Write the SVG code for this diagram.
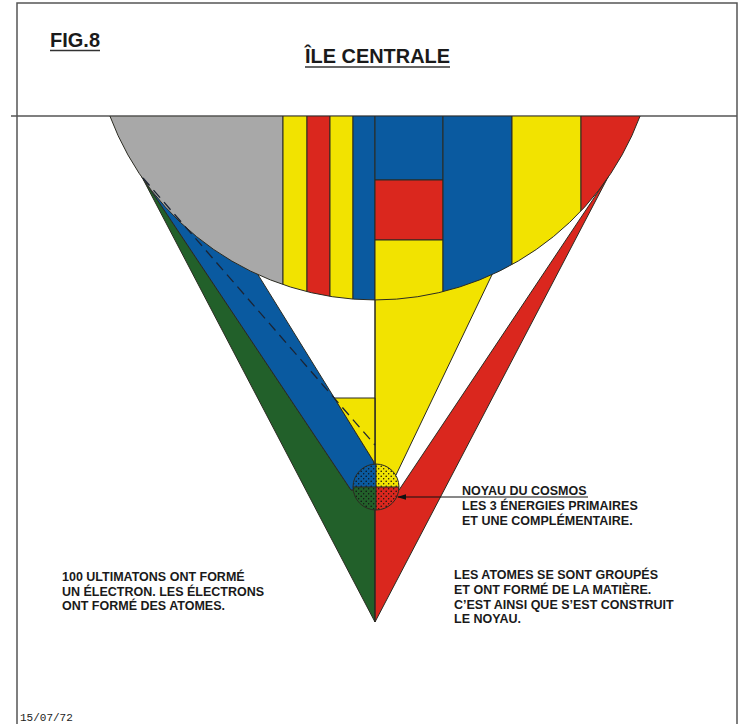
<svg xmlns="http://www.w3.org/2000/svg" width="742" height="724" viewBox="0 0 742 724">
<style>
.ol{stroke:#2b2b22;stroke-width:1;stroke-linejoin:round}
.gy{fill:#a8a8a8}.ye{fill:#f2e300}.rd{fill:#da271e}.bl{fill:#0a5aa0}.gr{fill:#22602a}
.t{font-family:"Liberation Sans",Arial,sans-serif;font-weight:bold;font-size:12.5px;fill:#1a1a1a}
.h{font-family:"Liberation Sans Narrow","Liberation Sans",Arial,sans-serif;font-weight:bold;font-size:21px;fill:#1a1a1a}
.frame{stroke:#555;stroke-width:1.5;fill:none}
</style>
<defs>
<clipPath id="bowlClip"><path d="M109.9,116 L640.1,116 A283,283 0 0 1 109.9,116 Z"/></clipPath>
<clipPath id="nucClip"><circle cx="376" cy="487" r="23"/></clipPath>
<pattern id="dots" width="5" height="5" patternUnits="userSpaceOnUse">
<circle cx="1.2" cy="1.2" r="0.8" fill="#111"/>
<circle cx="3.7" cy="3.7" r="0.7" fill="#111"/>
</pattern>
<marker id="arr" markerWidth="10" markerHeight="8" refX="1" refY="4" orient="auto" markerUnits="userSpaceOnUse">
<path d="M9,1.2 L0,4 L9,6.8 Z" fill="#111"/>
</marker>
</defs>
<rect width="742" height="724" fill="#fff"/>
<g id="frame">
<path class="frame" d="M17,724 L17,3 L737,3 L737,724"/>
<line x1="11" y1="116" x2="737" y2="116" stroke="#555" stroke-width="1.5"/>
</g>
<g id="green-band"><polygon class="gr ol" points="141.5,176.2 351,490 375,490 375,622"/></g>
<g id="red-band"><polygon class="rd ol" points="608.5,176.2 399,490 375,490 375,622"/></g>
<g id="blue-band"><polygon class="bl ol" points="141.5,176.2 258,274.7 374,462 375,487 351,490"/></g>
<g id="yellow-core"><polygon class="ye ol" points="375,240 492,240 492,274.7 396,475 375,487"/></g>
<g id="yellow-small"><polygon class="ye ol" points="334.3,398 375,398 375,480 374,462"/></g>
<g id="bowl">
<g clip-path="url(#bowlClip)">
<rect class="gy ol" x="100" y="116" width="183" height="200"/>
<rect class="ye ol" x="283" y="116" width="24" height="200"/>
<rect class="rd ol" x="307" y="116" width="23" height="200"/>
<rect class="ye ol" x="330" y="116" width="23" height="200"/>
<rect class="bl ol" x="353" y="116" width="22" height="200"/>
<rect class="bl ol" x="375" y="116" width="68" height="64"/>
<rect class="rd ol" x="375" y="180" width="68" height="60"/>
<rect class="ye ol" x="375" y="240" width="68" height="80"/>
<rect class="bl ol" x="443" y="116" width="69" height="200"/>
<rect class="ye ol" x="512" y="116" width="69" height="200"/>
<rect class="rd ol" x="581" y="116" width="69" height="200"/>
</g>
<path d="M109.9,116 A283,283 0 0 0 640.1,116" fill="none" class="ol"/>
</g>
<line x1="375" y1="300" x2="375" y2="622" class="ol"/>
<g id="nucleus">
<g clip-path="url(#nucClip)">
<rect x="350" y="461" width="26" height="26" class="bl"/>
<rect x="376" y="461" width="26" height="26" class="ye"/>
<rect x="350" y="487" width="26" height="26" class="gr"/>
<rect x="376" y="487" width="26" height="26" class="rd"/>
<rect x="350" y="461" width="52" height="52" fill="url(#dots)"/>
</g>
<circle cx="376" cy="487" r="23" fill="none" class="ol"/>
<line x1="353" y1="487" x2="399" y2="487" class="ol"/>
<line x1="376" y1="464" x2="376" y2="510" class="ol"/>
</g>
<g id="connectors">
<line x1="143" y1="178" x2="375" y2="445" stroke="#1c2433" stroke-width="1.3" stroke-dasharray="10,6"/>
<line x1="398" y1="497" x2="588" y2="497" stroke="#111" stroke-width="1" marker-start="url(#arr)"/>
</g>
<g id="title">
<text class="h" x="50" y="47" textLength="50" lengthAdjust="spacingAndGlyphs">FIG.8</text>
<line x1="50" y1="50.5" x2="100" y2="50.5" stroke="#333" stroke-width="1.5"/>
<text class="h" x="305" y="63" textLength="145" lengthAdjust="spacingAndGlyphs">ÎLE CENTRALE</text>
<line x1="305" y1="67" x2="450" y2="67" stroke="#333" stroke-width="1.5"/>
</g>
<g id="label-nucleus">
<text class="t" x="462" y="494.5">NOYAU DU COSMOS</text>
<text class="t" x="462" y="510">LES 3 ÉNERGIES PRIMAIRES</text>
<text class="t" x="462" y="525">ET UNE COMPLÉMENTAIRE.</text>
</g>
<g id="label-left">
<text class="t" x="62" y="581">100 ULTIMATONS ONT FORMÉ</text>
<text class="t" x="62" y="595.5">UN ÉLECTRON. LES ÉLECTRONS</text>
<text class="t" x="62" y="610">ONT FORMÉ DES ATOMES.</text>
</g>
<g id="label-right">
<text class="t" x="454" y="579">LES ATOMES SE SONT GROUPÉS</text>
<text class="t" x="454" y="594">ET ONT FORMÉ DE LA MATIÈRE.</text>
<text class="t" x="454" y="608.5">C’EST AINSI QUE S’EST CONSTRUIT</text>
<text class="t" x="454" y="623">LE NOYAU.</text>
</g>
<text x="20" y="721" font-family="'Liberation Mono','Courier New',monospace" font-size="11" fill="#222">15/07/72</text>
</svg>
